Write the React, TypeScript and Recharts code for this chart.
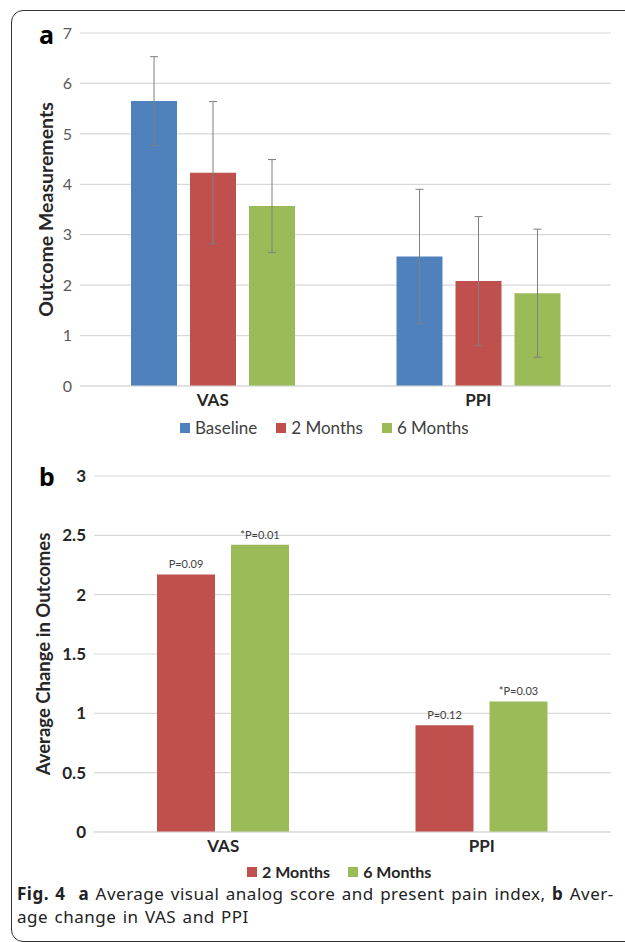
import React from "react";
import {
  BarChart,
  Bar,
  XAxis,
  YAxis,
  CartesianGrid,
  ErrorBar,
  LabelList,
} from "recharts";

// categories + series
const categories = ["VAS", "PPI"];

const baseline = [5.65, 2.57];
const baselineErr = [0.88, 1.33];
const twoMonths = [4.23, 2.08];
const twoMonthsErr = [1.41, 1.28];
const sixMonths = [3.57, 1.84];
const sixMonthsErr = [0.92, 1.27];

const changeTwo = [2.17, 0.9];
const changeSix = [2.42, 1.1];
const pTwo = ["P=0.09", "P=0.12"];
const pSix = ["*P=0.01", "*P=0.03"];

const ticksA = [0, 1, 2, 3, 4, 5, 6, 7];
const ticksB = [0, 0.5, 1, 1.5, 2, 2.5, 3];

const namesA = ["Baseline", "2 Months", "6 Months"];
const namesB = ["2 Months", "6 Months"];

const BLUE = "#4F81BD";
const RED = "#C0504D";
const GREEN = "#9BBB59";
const GRID = "#d9d9d9";
const FONT = "Lato, 'Open Sans', sans-serif";

const dataA = categories.map((c, i) => ({
  name: c,
  baseline: baseline[i],
  baselineErr: baselineErr[i],
  twoMonths: twoMonths[i],
  twoMonthsErr: twoMonthsErr[i],
  sixMonths: sixMonths[i],
  sixMonthsErr: sixMonthsErr[i],
}));

const dataB = categories.map((c, i) => ({
  name: c,
  two: changeTwo[i],
  six: changeSix[i],
  pTwo: pTwo[i],
  pSix: pSix[i],
}));

// rotated y axis title
const axisTitle =
  (text: string, x: number, size: number, weight: number | string, fill: string) =>
  (props: any) => {
    const vb = props.viewBox || {};
    const y = vb.y + vb.height / 2;
    return (
      <text
        x={x}
        y={y}
        transform={`rotate(-90 ${x} ${y})`}
        textAnchor="middle"
        dominantBaseline="central"
        fontFamily={FONT}
        fontSize={size}
        fontWeight={weight}
        fill={fill}
      >
        {text}
      </text>
    );
  };

function LegendRow({
  names,
  colors,
  left,
  top,
  bold,
  gap,
  size,
}: {
  names: string[];
  colors: string[];
  left: number;
  top: number;
  bold?: boolean;
  gap: number;
  size: number;
}) {
  return (
    <div
      style={{
        position: "absolute",
        left,
        top,
        display: "flex",
        alignItems: "center",
        fontFamily: FONT,
        fontSize: size,
        fontWeight: bold ? 700 : 400,
        color: bold ? "#262626" : "#404040",
        whiteSpace: "nowrap",
        height: 18,
        lineHeight: "18px",
      }}
    >
      {names.map((n, i) => (
        <div
          key={n}
          style={{ display: "flex", alignItems: "center", marginRight: gap }}
        >
          <span
            style={{
              width: 10,
              height: 10,
              background: colors[i],
              display: "inline-block",
              marginRight: 5,
            }}
          />
          {n}
        </div>
      ))}
    </div>
  );
}

export default function App() {
  return (
    <div
      style={{
        position: "absolute",
        left: 0,
        top: 0,
        width: 625,
        height: 942,
        overflow: "hidden",
        background: "#fff",
      }}
    >
      {/* figure frame, runs off the right edge */}
      <div
        style={{
          position: "absolute",
          left: 11,
          top: 10,
          width: 700,
          height: 930,
          border: "1.5px solid #333",
          borderRadius: 12,
        }}
      />

      {/* panel a */}
      <div style={{ position: "absolute", left: 0, top: 0 }}>
        <BarChart
          width={625}
          height={450}
          data={dataA}
          margin={{ top: 33, right: 14, left: 20, bottom: 34 }}
          barSize={46}
          barGap={13}
        >
          <CartesianGrid vertical={false} stroke={GRID} strokeWidth={1.2} />
          <XAxis
            dataKey="name"
            height={30}
            axisLine={{ stroke: GRID }}
            tickLine={false}
            tick={{ fontFamily: FONT, fontSize: 17, fontWeight: 700, fill: "#262626" }}
          />
          <YAxis
            width={60}
            domain={[0, 7]}
            ticks={ticksA}
            axisLine={false}
            tickLine={false}
            tick={{ fontFamily: FONT, fontSize: 16, fill: "#595959" }}
            label={axisTitle("Outcome Measurements", 45, 19.5, 700, "#262626")}
          />
          <Bar dataKey="baseline" fill={BLUE} isAnimationActive={false}>
            <ErrorBar dataKey="baselineErr" width={4} stroke="#7f7f7f" strokeWidth={1} />
          </Bar>
          <Bar dataKey="twoMonths" fill={RED} isAnimationActive={false}>
            <ErrorBar dataKey="twoMonthsErr" width={4} stroke="#7f7f7f" strokeWidth={1} />
          </Bar>
          <Bar dataKey="sixMonths" fill={GREEN} isAnimationActive={false}>
            <ErrorBar dataKey="sixMonthsErr" width={4} stroke="#7f7f7f" strokeWidth={1} />
          </Bar>
        </BarChart>
      </div>
      <LegendRow
        names={namesA}
        colors={[BLUE, RED, GREEN]}
        left={180}
        top={419}
        gap={19}
        size={17}
      />

      {/* panel b */}
      <div style={{ position: "absolute", left: 0, top: 450 }}>
        <BarChart
          width={625}
          height={420}
          data={dataB}
          margin={{ top: 26, right: 14, left: 30, bottom: 8 }}
          barSize={58}
          barGap={16}
        >
          <CartesianGrid vertical={false} stroke={GRID} strokeWidth={1.2} />
          <XAxis
            dataKey="name"
            height={30}
            axisLine={{ stroke: GRID }}
            tickLine={false}
            tick={{ fontFamily: FONT, fontSize: 17, fontWeight: 700, fill: "#262626" }}
          />
          <YAxis
            width={64}
            domain={[0, 3]}
            ticks={ticksB}
            axisLine={false}
            tickLine={false}
            tick={{ fontFamily: FONT, fontSize: 17, fontWeight: 700, fill: "#262626" }}
            label={axisTitle("Average Change in Outcomes", 43, 18.5, 700, "#262626")}
          />
          <Bar dataKey="two" fill={RED} isAnimationActive={false}>
            <LabelList
              dataKey="pTwo"
              position="top"
              offset={6}
              style={{ fontFamily: FONT, fontSize: 11, fill: "#404040" }}
            />
          </Bar>
          <Bar dataKey="six" fill={GREEN} isAnimationActive={false}>
            <LabelList
              dataKey="pSix"
              position="top"
              offset={6}
              style={{ fontFamily: FONT, fontSize: 11, fill: "#404040" }}
            />
          </Bar>
        </BarChart>
      </div>
      <LegendRow
        names={namesB}
        colors={[RED, GREEN]}
        left={247}
        top={863}
        bold
        gap={18}
        size={16}
      />

      {/* panel letters */}
      <div
        style={{
          position: "absolute",
          left: 39,
          top: 19,
          fontFamily: "'Noto Sans', sans-serif",
          fontWeight: 700,
          fontSize: 25,
          lineHeight: "30px",
        }}
      >
        a
      </div>
      <div
        style={{
          position: "absolute",
          left: 39,
          top: 461,
          fontFamily: "'Noto Sans', sans-serif",
          fontWeight: 700,
          fontSize: 25,
          lineHeight: "30px",
        }}
      >
        b
      </div>

      {/* caption */}
      <div
        style={{
          position: "absolute",
          left: 17,
          top: 882,
          fontFamily: "'Noto Sans', sans-serif",
          fontSize: 17,
          letterSpacing: 0.5,
          wordSpacing: 1.5,
          lineHeight: "23px",
          color: "#222",
          whiteSpace: "nowrap",
        }}
      >
        <b>Fig. 4</b>&nbsp; <b>a</b> Average visual analog score and present pain index, <b>b</b> Aver-
        <br />
        age change in VAS and PPI
      </div>
    </div>
  );
}
